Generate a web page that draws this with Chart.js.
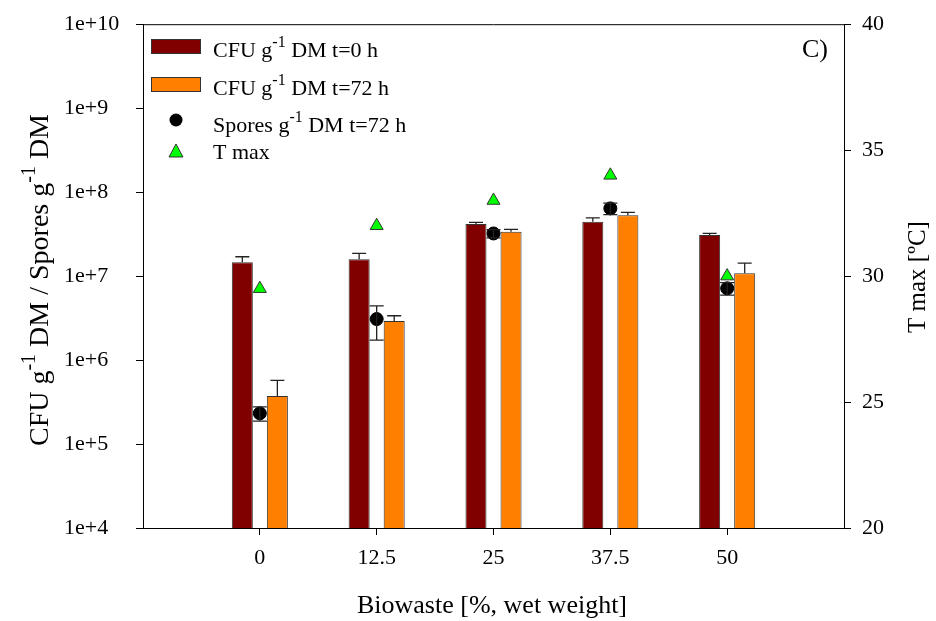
<!DOCTYPE html>
<html>
<head>
<meta charset="utf-8">
<script src="https://cdn.jsdelivr.net/npm/chart.js@4.4.0/dist/chart.umd.min.js"></script>
<style>
  html, body { margin: 0; padding: 0; background: #fff; }
  #wrap { width: 936px; height: 621px; }
</style>
</head>
<body>
<div id="wrap"><canvas id="chart" width="936" height="621"></canvas></div>
<script>
// Valores
const biowaste = [0, 12.5, 25, 37.5, 50];
const cfu0 = [1.46e7, 1.59e7, 4.16e7, 4.43e7, 3.08e7];
const cfu0Err = [2.4e6, 2.7e6, 2.0e6, 5.0e6, 1.4e6];
const cfu72 = [3.73e5, 2.91e6, 3.37e7, 5.32e7, 1.08e7];
const cfu72Err = [2.0e5, 4.6e5, 2.3e6, 4.1e6, 3.5e6];
const spores = [2.32e5, 3.08e6, 3.22e7, 6.4e7, 7.15e6];
const sporesErr = [4.5e4, 1.35e6, 3.6e6, 1.0e7, 1.2e6];
const tmax = [29.5, 32.0, 33.0, 34.0, 30.0];
const yTicks = [1e4, 1e5, 1e6, 1e7, 1e8, 1e9, 1e10];
const y2Ticks = [20, 25, 30, 35, 40];

const SERIF = "'Liberation Serif', 'Times New Roman', serif";
const MAROON = '#800000';
const ORANGE = '#ff8000';
const GREEN = '#00ff00';

const xy = (vals) => biowaste.map((x, i) => ({ x: x, y: vals[i] }));

/**
 * Texto con superíndices: parts = [[texto, esSup], ...]
 */
function richWidth(ctx, parts, size) {
    let w = 0;
    parts.forEach(([t, sup]) => {
        ctx.font = (sup ? Math.round(size * 0.72) : size) + 'px ' + SERIF;
        w += ctx.measureText(t).width;
    });
    return w;
}

function richText(ctx, parts, x, y, size) {
    let cx = x;
    parts.forEach(([t, sup]) => {
        ctx.font = (sup ? Math.round(size * 0.72) : size) + 'px ' + SERIF;
        ctx.fillText(t, cx, sup ? y - size * 0.45 : y);
        cx += ctx.measureText(t).width;
    });
}

// Barras de error
const errorBars = {
    id: 'errorBars',
    afterDatasetsDraw(chart) {
        const ctx = chart.ctx;
        const yScale = chart.scales.y;
        ctx.save();
        ctx.strokeStyle = '#222';
        ctx.lineWidth = 1.3;
        chart.data.datasets.forEach((ds, i) => {
            if (!ds.errors) return;
            const meta = chart.getDatasetMeta(i);
            meta.data.forEach((el, j) => {
                const v = ds.data[j].y;
                const e = ds.errors[j];
                const top = yScale.getPixelForValue(v + e);
                const bot = ds.errorBoth ? yScale.getPixelForValue(v - e) : el.y;
                ctx.beginPath();
                ctx.moveTo(el.x, bot);
                ctx.lineTo(el.x, top);
                ctx.moveTo(el.x - 7, top);
                ctx.lineTo(el.x + 7, top);
                if (ds.errorBoth) {
                    ctx.moveTo(el.x - 7, bot);
                    ctx.lineTo(el.x + 7, bot);
                }
                ctx.stroke();
            });
        });
        ctx.restore();
    }
};

// Marco, leyenda y títulos de ejes
const decor = {
    id: 'decor',
    afterDraw(chart) {
        const ctx = chart.ctx;
        const a = chart.chartArea;
        ctx.save();
        ctx.strokeStyle = '#000';
        ctx.lineWidth = 1;
        ctx.beginPath();
        ctx.moveTo(a.left, a.top + 0.5);
        ctx.lineTo(a.right, a.top + 0.5);
        ctx.stroke();

        ctx.textBaseline = 'alphabetic';
        ctx.textAlign = 'left';

        // leyenda
        ctx.strokeStyle = '#333';
        ctx.fillStyle = MAROON;
        ctx.fillRect(151, 39, 49, 14);
        ctx.strokeRect(151.5, 39.5, 49, 14);
        ctx.fillStyle = ORANGE;
        ctx.fillRect(151, 77, 49, 14);
        ctx.strokeRect(151.5, 77.5, 49, 14);
        ctx.fillStyle = '#000';
        ctx.beginPath();
        ctx.arc(176, 120, 6.5, 0, Math.PI * 2);
        ctx.fill();
        ctx.fillStyle = GREEN;
        ctx.beginPath();
        ctx.moveTo(176, 144);
        ctx.lineTo(183, 157);
        ctx.lineTo(169, 157);
        ctx.closePath();
        ctx.fill();
        ctx.stroke();

        ctx.fillStyle = '#000';
        richText(ctx, [['CFU g', 0], ['-1', 1], [' DM t=0 h', 0]], 213, 57, 22);
        richText(ctx, [['CFU g', 0], ['-1', 1], [' DM t=72 h', 0]], 213, 95, 22);
        richText(ctx, [['Spores g', 0], ['-1', 1], [' DM t=72 h', 0]], 213, 132, 22);
        richText(ctx, [['T max', 0]], 213, 159, 22);

        ctx.font = '26px ' + SERIF;
        ctx.fillText('C)', 802, 57);

        // título eje x
        ctx.textAlign = 'center';
        ctx.font = '26px ' + SERIF;
        ctx.fillText('Biowaste [%, wet weight]', 492, 613);

        // título eje y izquierdo
        ctx.textAlign = 'left';
        const leftTitle = [['CFU g', 0], ['-1', 1], [' DM / Spores g', 0], ['-1', 1], [' DM', 0]];
        ctx.save();
        ctx.translate(48, 280);
        ctx.rotate(-Math.PI / 2);
        richText(ctx, leftTitle, -richWidth(ctx, leftTitle, 28) / 2, 0, 28);
        ctx.restore();

        // título eje y derecho
        const rightTitle = [['T max [ºC]', 0]];
        ctx.save();
        ctx.translate(925, 277);
        ctx.rotate(-Math.PI / 2);
        richText(ctx, rightTitle, -richWidth(ctx, rightTitle, 25) / 2, 0, 25);
        ctx.restore();

        ctx.restore();
    }
};

const tickFont = { family: SERIF, size: 22 };

new Chart(document.getElementById('chart'), {
    type: 'bar',
    data: {
        datasets: [
            {
                label: 'T max',
                type: 'line',
                data: xy(tmax),
                yAxisID: 'y1',
                showLine: false,
                pointStyle: 'triangle',
                pointRadius: 7.5,
                backgroundColor: GREEN,
                borderColor: '#333',
                borderWidth: 1,
                order: 0
            },
            {
                label: 'Spores g-1 DM t=72 h',
                type: 'line',
                data: xy(spores),
                errors: sporesErr,
                errorBoth: true,
                yAxisID: 'y',
                showLine: false,
                pointStyle: 'circle',
                pointRadius: 6.5,
                backgroundColor: '#000',
                borderColor: '#000',
                borderWidth: 1,
                order: 1
            },
            {
                label: 'CFU g-1 DM t=0 h',
                data: xy(cfu0),
                errors: cfu0Err,
                yAxisID: 'y',
                backgroundColor: MAROON,
                borderColor: '#333',
                borderWidth: 1,
                categoryPercentage: 0.6,
                barPercentage: 0.6,
                order: 2
            },
            {
                label: 'CFU g-1 DM t=72 h',
                data: xy(cfu72),
                errors: cfu72Err,
                yAxisID: 'y',
                backgroundColor: ORANGE,
                borderColor: '#333',
                borderWidth: 1,
                categoryPercentage: 0.6,
                barPercentage: 0.6,
                order: 2
            }
        ]
    },
    options: {
        responsive: false,
        animation: false,
        devicePixelRatio: 1,
        layout: { padding: { top: 24, left: 64, right: 0, bottom: 0 } },
        plugins: { legend: { display: false }, tooltip: { enabled: false } },
        scales: {
            x: {
                type: 'linear',
                min: -12.5,
                max: 62.5,
                offset: false,
                afterBuildTicks: s => { s.ticks = biowaste.map(v => ({ value: v })); },
                afterFit: s => { s.height = 93; },
                grid: { offset: false, drawOnChartArea: false, drawTicks: true, tickLength: 7, color: '#000' },
                border: { color: '#000', width: 1 },
                ticks: { font: tickFont, color: '#000', padding: 10, maxRotation: 0, callback: v => String(v) }
            },
            y: {
                type: 'logarithmic',
                position: 'left',
                min: 1e4,
                max: 1e10,
                afterBuildTicks: s => { s.ticks = yTicks.map(v => ({ value: v })); },
                afterFit: s => { s.width = 79; },
                grid: { drawOnChartArea: false, drawTicks: true, tickLength: 7, color: '#000' },
                border: { color: '#000', width: 1 },
                ticks: { font: tickFont, color: '#000', crossAlign: 'far', callback: v => '1e+' + Math.round(Math.log10(v)) }
            },
            y1: {
                type: 'linear',
                position: 'right',
                min: 20,
                max: 40,
                afterBuildTicks: s => { s.ticks = y2Ticks.map(v => ({ value: v })); },
                afterFit: s => { s.width = 92; },
                grid: { drawOnChartArea: false, drawTicks: true, tickLength: 7, color: '#000' },
                border: { color: '#000', width: 1 },
                ticks: { font: tickFont, color: '#000', padding: 11 }
            }
        }
    },
    plugins: [errorBars, decor]
});
</script>
</body>
</html>
